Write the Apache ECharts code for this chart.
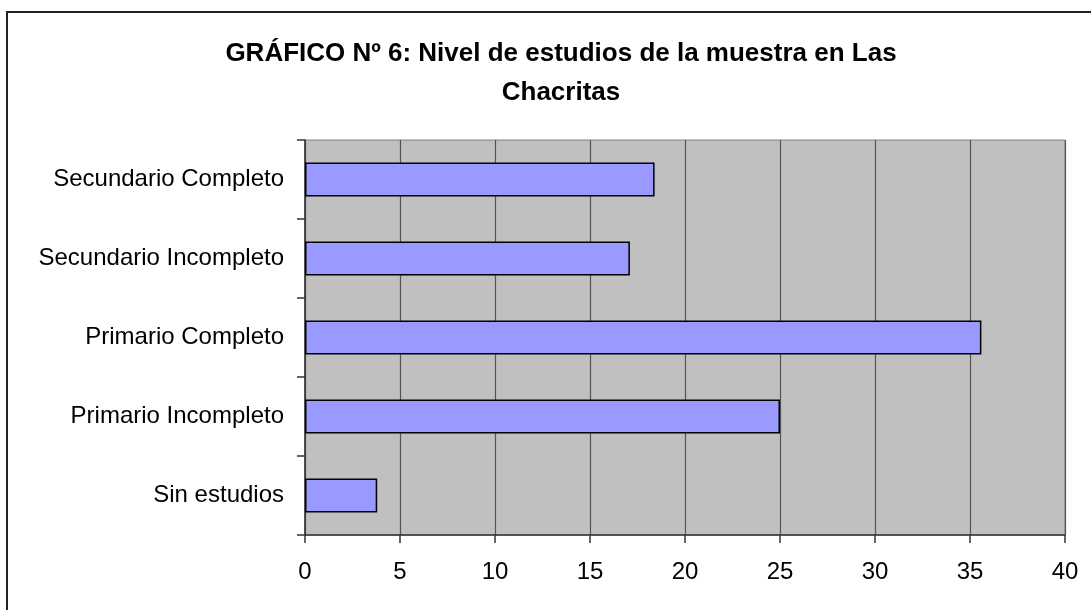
<!DOCTYPE html>
<html>
<head>
<meta charset="utf-8">
<script src="https://cdn.jsdelivr.net/npm/echarts@6/dist/echarts.min.js"></script>
<style>
html,body{margin:0;padding:0;background:#fff;}
#chart{width:1091px;height:610px;}
</style>
</head>
<body>
<div id="chart"></div>
<script>
var titleText = 'GRÁFICO Nº 6: Nivel de estudios de la muestra en Las\nChacritas';
var categories = ['Sin estudios', 'Primario Incompleto', 'Primario Completo', 'Secundario Incompleto', 'Secundario Completo'];
var values = [3.8, 25.0, 35.6, 17.1, 18.4];
var xMin = 0, xMax = 40, xStep = 5;

var chart = echarts.init(document.getElementById('chart'));
var font = 'Liberation Sans, Arial, sans-serif';
chart.setOption({
  backgroundColor: '#ffffff',
  animation: false,
  title: {
    text: titleText,
    left: 556,
    textAlign: 'center',
    top: 29,
    textStyle: {fontFamily: font, fontSize: 26, fontWeight: 'bold', color: '#000', lineHeight: 39}
  },
  graphic: [{
    type: 'rect',
    shape: {x: 7, y: 12, width: 1200, height: 700},
    style: {fill: 'none', stroke: '#222', lineWidth: 2},
    silent: true
  }],
  grid: {
    left: 305, right: 26, top: 140, bottom: 75,
    show: true, backgroundColor: '#c0c0c0', borderColor: '#808080', borderWidth: 1
  },
  xAxis: {
    type: 'value', min: xMin, max: xMax, interval: xStep,
    axisLine: {show: true, lineStyle: {color: '#333', width: 1.5}},
    axisTick: {show: true, length: 8, inside: false, lineStyle: {color: '#333', width: 1.5}},
    splitLine: {show: true, lineStyle: {color: '#555', width: 1.2}},
    axisLabel: {fontFamily: font, fontSize: 24, color: '#000', margin: 25}
  },
  yAxis: {
    type: 'category', data: categories,
    axisLine: {show: true, lineStyle: {color: '#333', width: 1.5}},
    axisTick: {show: true, length: 8, lineStyle: {color: '#333', width: 1.5}},
    splitLine: {show: false},
    axisLabel: {fontFamily: font, fontSize: 24, color: '#000', margin: 21}
  },
  series: [{
    type: 'bar', data: values, barWidth: 34,
    itemStyle: {color: '#9999ff', borderColor: '#000', borderWidth: 1.5}
  }]
});
</script>
</body>
</html>
